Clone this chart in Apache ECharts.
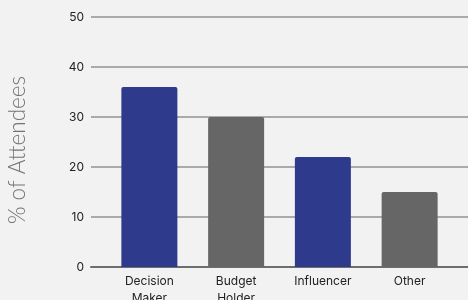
<!DOCTYPE html>
<html>
<head>
<meta charset="utf-8">
<script src="https://cdn.jsdelivr.net/npm/echarts@6/dist/echarts.min.js"></script>
<style>
  html, body { margin: 0; padding: 0; background: #f2f2f2; }
  #chart { width: 468px; height: 300px; }
</style>
</head>
<body>
<div id="chart"></div>
<script>
const categories = ["Decision\nMaker", "Budget\nHolder", "Influencer", "Other"];
const values = [36, 30, 22, 15];
const barColors = ["#2e3a8c", "#666666", "#2e3a8c", "#666666"];
const yTicks = [0, 10, 20, 30, 40, 50];

const chart = echarts.init(document.getElementById("chart"));

const option = {
  backgroundColor: "#f2f2f2",
  animation: false,
  // 两个grid：第一个画网格线，第二个画柱子
  grid: [
    { left: 91, right: 0, top: 17, bottom: 33, outerBoundsMode: "none", containLabel: false },
    { left: 106, right: 15, top: 17, bottom: 33, outerBoundsMode: "none", containLabel: false }
  ],
  graphic: [
    {
      type: "text",
      x: 18,
      y: 150,
      rotation: Math.PI / 2,
      style: {
        text: "% of Attendees",
        fill: "#737373",
        font: "300 22.5px Lato",
        align: "center",
        verticalAlign: "middle"
      }
    }
  ],
  xAxis: [
    {
      gridIndex: 0,
      type: "category",
      data: [""],
      axisLine: { show: true, lineStyle: { color: "#6e6e6e", width: 2 } },
      axisTick: { show: false },
      axisLabel: { show: false }
    },
    {
      gridIndex: 1,
      type: "category",
      data: categories,
      axisLine: { show: false },
      axisTick: { show: false },
      axisLabel: {
        color: "#222",
        fontSize: 12,
        fontFamily: "Inter",
        lineHeight: 17,
        margin: 6
      }
    }
  ],
  yAxis: [
    {
      gridIndex: 0,
      type: "value",
      min: yTicks[0],
      max: yTicks[yTicks.length - 1],
      interval: 10,
      axisLine: { show: false },
      axisTick: { show: false },
      axisLabel: { color: "#222", fontSize: 12, fontFamily: "Inter", margin: 7 },
      splitLine: { lineStyle: { color: "#aaaaaa", width: 2 } }
    },
    {
      gridIndex: 1,
      type: "value",
      min: yTicks[0],
      max: yTicks[yTicks.length - 1],
      interval: 10,
      show: false
    }
  ],
  series: [
    {
      type: "bar",
      xAxisIndex: 1,
      yAxisIndex: 1,
      barWidth: 56,
      data: values.map((v, i) => ({
        value: v,
        itemStyle: { color: barColors[i], borderRadius: [2, 2, 0, 0] }
      }))
    }
  ]
};

chart.setOption(option);
</script>
</body>
</html>
